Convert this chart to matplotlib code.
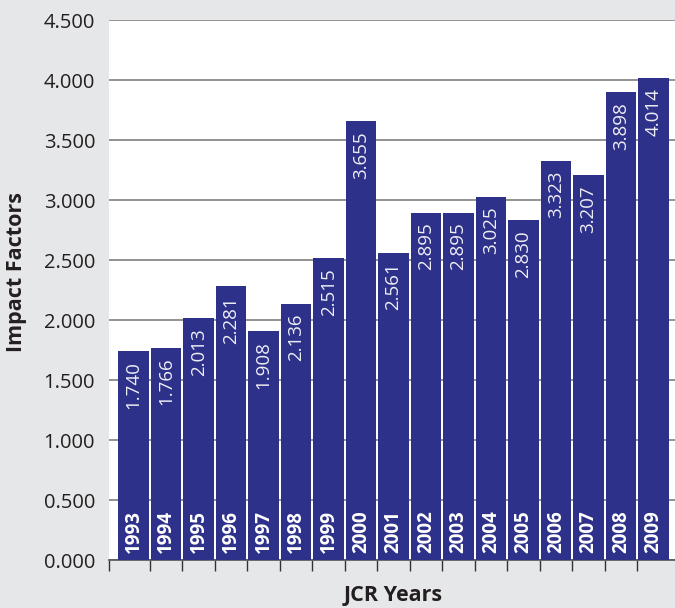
import matplotlib.pyplot as plt
import numpy as np

years = ['1993', '1994', '1995', '1996', '1997', '1998', '1999', '2000', '2001',
         '2002', '2003', '2004', '2005', '2006', '2007', '2008', '2009']
impact = [1.740, 1.766, 2.013, 2.281, 1.908, 2.136, 2.515, 3.655, 2.561,
          2.895, 2.895, 3.025, 2.830, 3.323, 3.207, 3.898, 4.014]

plt.rcParams['font.family'] = ['Open Sans', 'DejaVu Sans']

bg = '#e6e7e8'
navy = '#2e3189'
dark = '#231f20'

fig = plt.figure(figsize=(6.75, 6.08), dpi=100, facecolor=bg)
ax = fig.add_axes([109 / 675, 48 / 608, 1 - 109 / 675, 540 / 608])
ax.set_facecolor('white')

x = np.arange(len(years))
ax.bar(x, impact, width=0.94, color=navy, zorder=3)

# value labels at the top of each bar, years at the bottom
for xi, v, yr in zip(x, impact, years):
    ax.annotate('%.3f' % v, (xi, v), xytext=(0, -7), textcoords='offset points',
                rotation=90, ha='center', va='top', color='#eeeef6', fontsize=13.5, zorder=4)
    ax.annotate(yr, (xi, 0), xytext=(0, 5), textcoords='offset points',
                rotation=90, ha='center', va='bottom', color='white', fontsize=13.5,
                fontweight='bold', zorder=4)

ax.set_xlim(-0.76, 16.66)
ax.set_ylim(0, 4.5)
ticks = np.arange(0, 4.51, 0.5)
ax.set_yticks(ticks)
ax.set_yticklabels(['%.3f' % t for t in ticks], fontsize=14.5, color=dark)
ax.tick_params(axis='y', length=0, pad=10)
ax.set_xticks(np.concatenate(([-0.76], x[:-1] + 0.5)))
ax.set_xticklabels([])
ax.tick_params(axis='x', length=8, width=1, color='#333333', direction='out')

ax.yaxis.grid(True, color='#7f7f7f', linewidth=1.2, zorder=0)
ax.set_axisbelow(True)
for s in ['top', 'right', 'left']:
    ax.spines[s].set_visible(False)
ax.spines['bottom'].set_color('#555555')
ax.spines['bottom'].set_linewidth(1.2)

fig.text(17 / 675, 1 - 272 / 608, 'Impact Factors', rotation=90, ha='center', va='center',
         fontsize=15.5, fontweight='bold', color=dark)
fig.text(393 / 675, 1 - 595 / 608, 'JCR Years', ha='center', va='center',
         fontsize=15.5, fontweight='bold', color=dark)

fig.savefig('out.png', dpi=100, facecolor=bg)
